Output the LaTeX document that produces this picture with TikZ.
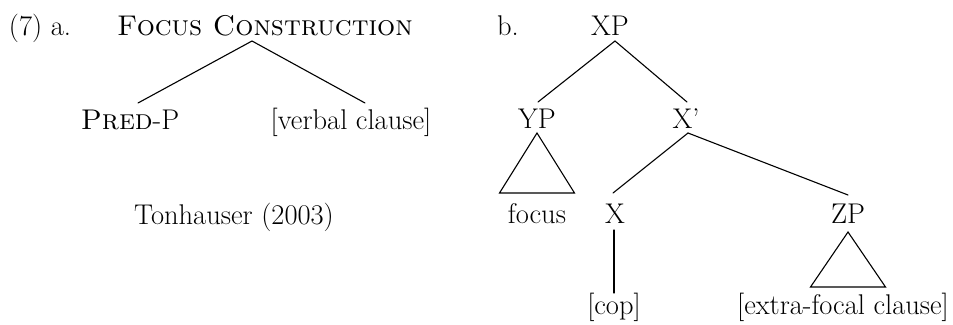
\documentclass[tikz,border=0pt]{standalone}
\begin{document}
\begin{tikzpicture}[x=1pt,y=-1pt,
  lbl/.style={anchor=base,inner sep=0pt,outer sep=0pt,font=\fontsize{28.5}{30}\selectfont},
  tn/.style={lbl,text height=21pt,text depth=0pt,outer sep=5pt},
  edge/.style={line width=1.1pt,line cap=round}]
\useasboundingbox (0,0) rectangle (953,324);
% part a
\node[lbl,anchor=base west] (la) at (9,35) {(7) a.};
\node[tn] (fc) at (265,35) {\textsc{Focus Construction}};
\node[tn] (pred) at (130,129) {\textsc{Pred}-P};
\node[tn] (vc) at (351,129) {[verbal clause]};
\node[lbl] (ton) at (234,224) {Tonhauser (2003)};
\draw[edge] ([xshift=-13pt,yshift=-1pt]fc.south) -- ([xshift=8pt]pred.north);
\draw[edge] ([xshift=-13pt,yshift=-1pt]fc.south) -- ([xshift=14pt]vc.north);
% part b
\node[lbl,anchor=base west] (lb) at (497,35) {b.};
\node[tn] (xp) at (610,35) {XP};
\node[tn] (yp) at (537,128) {YP};
\node[tn] (xbar) at (686,128) {X'};
\node[tn] (focus) at (537,223) {focus};
\node[tn] (x) at (615,223) {X};
\node[tn] (zp) at (848,223) {ZP};
\node[tn] (cop) at (614,314) {[cop]};
\node[tn] (efc) at (843,314) {[extra-focal clause]};
\draw[edge] ([xshift=5pt,yshift=-1pt]xp.south) -- ([xshift=1pt]yp.north);
\draw[edge] ([xshift=5pt,yshift=-1pt]xp.south) -- ([xshift=1pt]xbar.north);
\draw[edge] (yp.south) -- ([xshift=-37.5pt,yshift=4pt]focus.north) -- ([xshift=37.5pt,yshift=4pt]focus.north) -- cycle;
\draw[edge] ([xshift=2pt]xbar.south) -- ([xshift=-2pt,yshift=4pt]x.north);
\draw[edge] ([xshift=2pt]xbar.south) -- ([xshift=0pt,yshift=2pt]zp.north);
\draw[edge] ([xshift=-1pt,yshift=-2pt]x.south) -- ([yshift=-5pt]cop.north);
\draw[edge] ([xshift=0pt,yshift=-4pt]zp.south) -- ([xshift=-37.5pt,yshift=1pt]zp.south |- efc.north) -- ([xshift=37.5pt,yshift=1pt]zp.south |- efc.north) -- cycle;
\end{tikzpicture}
\end{document}
